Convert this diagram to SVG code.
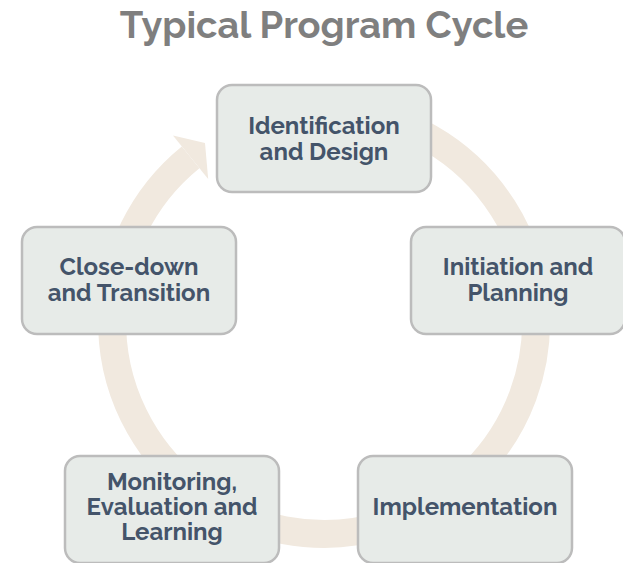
<svg xmlns="http://www.w3.org/2000/svg" width="623" height="563" viewBox="0 0 623 563">
  <style>
    .box { fill: #e7ebe8; stroke: #bcbcbc; stroke-width: 2.5; }
    .lbl { font-family: "Raleway", "Open Sans", "Liberation Sans", sans-serif; font-weight: 700; font-size: 24px; fill: #44546a; text-anchor: middle; }
    .title { font-family: "Raleway", "Open Sans", "Liberation Sans", sans-serif; font-weight: 700; font-size: 38px; fill: #7f7f7f; text-anchor: middle; }
    .ring { fill: none; stroke: #f1e9df; stroke-width: 28; }
    .head { fill: #f1e9df; }
  </style>
  <rect width="623" height="563" fill="#ffffff"/>
  <text class="title" x="324" y="38">Typical Program Cycle</text>
  <g id="connectors">
    <path class="ring" d="M 342.5 110.8 A 212 212 0 1 1 190.6 157.3"/>
    <polygon class="head" points="173,135.5 205,143 208.2,179"/>
  </g>
  <g id="node-identification">
    <rect class="box" x="217" y="85" width="214" height="107" rx="15"/>
    <text class="lbl" x="324" y="134">Identification</text>
    <text class="lbl" x="324" y="160">and Design</text>
  </g>
  <g id="node-initiation">
    <rect class="box" x="411" y="227" width="214" height="107" rx="15"/>
    <text class="lbl" x="518" y="275">Initiation and</text>
    <text class="lbl" x="518" y="301">Planning</text>
  </g>
  <g id="node-implementation">
    <rect class="box" x="358" y="456" width="214" height="107" rx="15"/>
    <text class="lbl" x="465" y="515">Implementation</text>
  </g>
  <g id="node-mel">
    <rect class="box" x="65" y="456" width="214" height="107" rx="15"/>
    <text class="lbl" x="172" y="490">Monitoring,</text>
    <text class="lbl" x="172" y="515">Evaluation and</text>
    <text class="lbl" x="172" y="540">Learning</text>
  </g>
  <g id="node-closedown">
    <rect class="box" x="22" y="227" width="214" height="107" rx="15"/>
    <text class="lbl" x="129" y="275">Close-down</text>
    <text class="lbl" x="129" y="301">and Transition</text>
  </g>
</svg>
